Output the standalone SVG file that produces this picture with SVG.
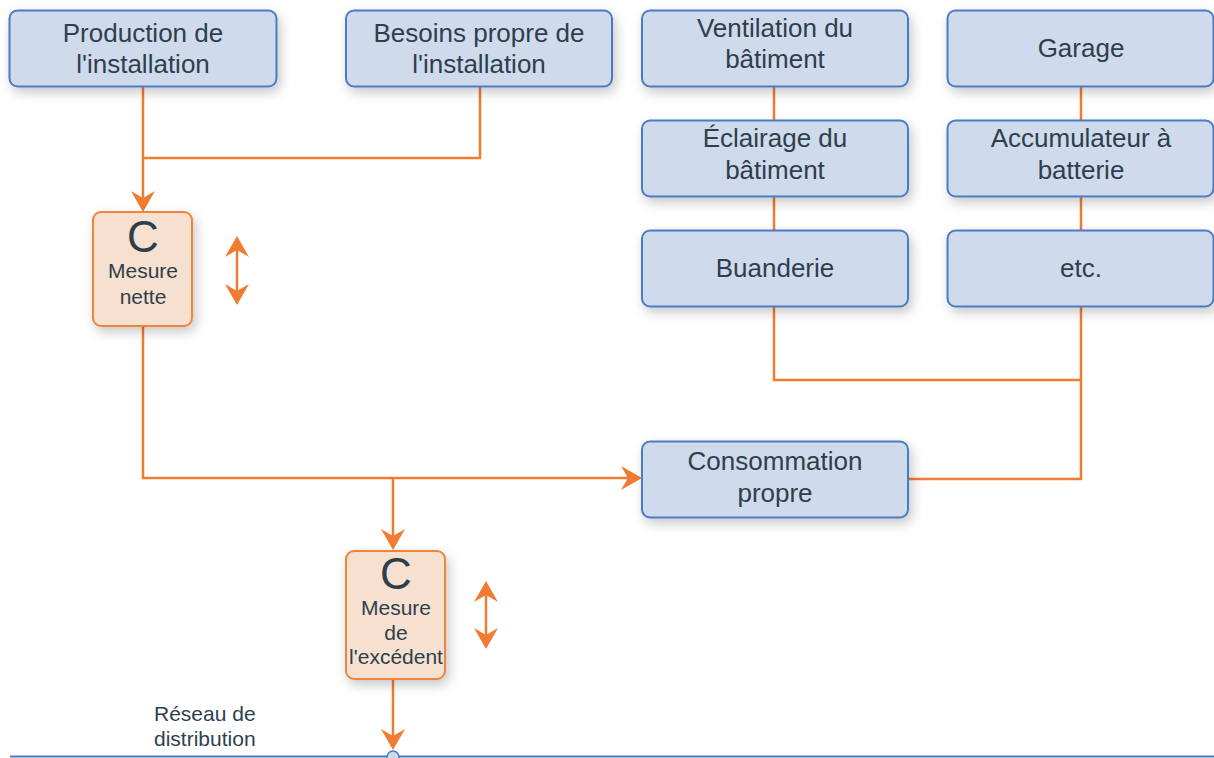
<svg xmlns="http://www.w3.org/2000/svg" width="1214" height="758" viewBox="0 0 1214 758">
<defs>
<filter id="sh" x="-20%" y="-20%" width="150%" height="160%">
<feDropShadow dx="3" dy="5" stdDeviation="6" flood-color="#000" flood-opacity="0.22"/>
</filter>
<marker id="ah" viewBox="-18 -13 23 26" refX="0" refY="0" markerWidth="23" markerHeight="26" orient="auto-start-reverse" markerUnits="userSpaceOnUse">
<path d="M4,0 L-17,-12 L-10,0 L-17,12 Z" fill="#f27b32"/>
</marker>
<style>
.box{fill:#cfdaec;stroke:#4a7bc2;stroke-width:2;filter:url(#sh)}
.cbox{fill:#f6e0d0;stroke:#f0843a;stroke-width:2;filter:url(#sh)}
.t{font-family:"Liberation Sans",Arial,sans-serif;font-size:26px;fill:#2e3f4c;text-anchor:middle}
.s{font-family:"Liberation Sans",Arial,sans-serif;font-size:21px;fill:#2e3f4c;text-anchor:middle}
.c{font-family:"Liberation Sans",Arial,sans-serif;font-size:44px;fill:#2e3f4c;text-anchor:middle}
.ln{fill:none;stroke:#f27b32;stroke-width:2.5}
.arr{marker-end:url(#ah)}
.dbl{marker-start:url(#ah);marker-end:url(#ah)}
</style>
</defs>
<rect width="1214" height="758" fill="#fff"/>
<g id="connectors">
<path class="ln arr" d="M143,87 V208"/>
<path class="ln" d="M480,87 V158 H143"/>
<path class="ln arr" d="M143,327 V478 H638"/>
<path class="ln arr" d="M393,478 V546"/>
<path class="ln arr" d="M393,680 V746"/>
<path class="ln" d="M774,87 V121 M774,197 V231"/>
<path class="ln" d="M1081,87 V121 M1081,197 V231"/>
<path class="ln" d="M774,307 V380 H1081"/>
<path class="ln" d="M1081,307 V479 H908"/>
<path class="ln dbl" d="M237,240 V301"/>
<path class="ln dbl" d="M486,585 V645"/>
</g>
<g id="network">
<line x1="10" y1="756.5" x2="1214" y2="756.5" stroke="#4a7bc2" stroke-width="2"/>
<circle cx="393" cy="757" r="6" fill="#cfdaec" stroke="#4a7bc2" stroke-width="1.5"/>
<text class="s" style="text-anchor:start" x="154" y="721">Réseau de</text>
<text class="s" style="text-anchor:start" x="154" y="746">distribution</text>
</g>
<g id="production">
<rect class="box" x="9.5" y="10.5" width="267" height="76" rx="8"/>
<text class="t" x="143" y="42">Production de</text>
<text class="t" x="143" y="73">l'installation</text>
</g>
<g id="besoins">
<rect class="box" x="346" y="10.5" width="266" height="76" rx="8"/>
<text class="t" x="479" y="42">Besoins propre de</text>
<text class="t" x="479" y="73">l'installation</text>
</g>
<g id="ventilation">
<rect class="box" x="642" y="10.5" width="266" height="76" rx="8"/>
<text class="t" x="775" y="37">Ventilation du</text>
<text class="t" x="775" y="68">bâtiment</text>
</g>
<g id="garage">
<rect class="box" x="947.5" y="10.5" width="266" height="76" rx="8"/>
<text class="t" x="1081" y="57">Garage</text>
</g>
<g id="eclairage">
<rect class="box" x="642" y="120.5" width="266" height="76" rx="8"/>
<text class="t" x="775" y="147">Éclairage du</text>
<text class="t" x="775" y="179">bâtiment</text>
</g>
<g id="accumulateur">
<rect class="box" x="947.5" y="120.5" width="266" height="76" rx="8"/>
<text class="t" x="1081" y="147">Accumulateur à</text>
<text class="t" x="1081" y="179">batterie</text>
</g>
<g id="buanderie">
<rect class="box" x="642" y="230.5" width="266" height="76" rx="8"/>
<text class="t" x="775" y="277">Buanderie</text>
</g>
<g id="etc">
<rect class="box" x="947.5" y="230.5" width="266" height="76" rx="8"/>
<text class="t" x="1081" y="277">etc.</text>
</g>
<g id="consommation">
<rect class="box" x="642" y="441.5" width="266" height="76" rx="8"/>
<text class="t" x="775" y="470">Consommation</text>
<text class="t" x="775" y="502">propre</text>
</g>
<g id="mesure-nette">
<rect class="cbox" x="93" y="212" width="99" height="114" rx="8"/>
<text class="c" x="143" y="252">C</text>
<text class="s" x="143" y="278">Mesure</text>
<text class="s" x="143" y="304">nette</text>
</g>
<g id="mesure-excedent">
<rect class="cbox" x="346" y="551" width="99" height="128" rx="8"/>
<text class="c" x="396" y="589">C</text>
<text class="s" x="396" y="615">Mesure</text>
<text class="s" x="396" y="640">de</text>
<text class="s" x="396" y="664">l'excédent</text>
</g>
</svg>
